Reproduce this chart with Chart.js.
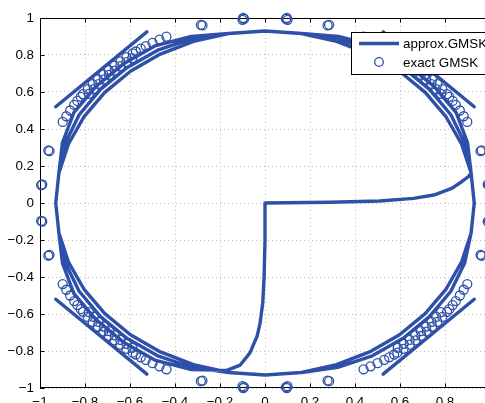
<!DOCTYPE html>
<html><head><meta charset="utf-8">
<script src="https://cdn.jsdelivr.net/npm/chart.js@4.4.1/dist/chart.umd.min.js"></script>
<style>
html,body{margin:0;padding:0;overflow:hidden;background:#fff;width:485px;height:403px}
#wrap{position:absolute;left:0;top:0;width:500px;height:403px}
</style>
</head><body><div id="wrap"><canvas id="c" width="500" height="403"></canvas></div>
<script>
// ---- data ----
const seriesLabels = ['approx.GMSK', 'exact GMSK'];
const xTicks = [-1, -0.8, -0.6, -0.4, -0.2, 0, 0.2, 0.4, 0.6, 0.8, 1];
const yTicks = [-1, -0.8, -0.6, -0.4, -0.2, 0, 0.2, 0.4, 0.6, 0.8, 1];

// approx. GMSK trajectory pieces
const approxStart = [[0,0],[0.29,0.004],[0.51,0.011],[0.66,0.025],[0.75,0.043],[0.83,0.079],[0.874,0.115],[0.904,0.142]];
const approxLoopA = [[0.916,0.162],[0.874,0.318],[0.805,0.465],[0.712,0.598],[0.598,0.712],[0.465,0.805],[0.318,0.874],[0.162,0.916],[0,0.93],
  [-0.162,0.916],[-0.318,0.874],[-0.465,0.805],[-0.598,0.712],[-0.712,0.598],[-0.805,0.465],[-0.874,0.318],[-0.916,0.162],[-0.93,0],
  [-0.916,-0.162],[-0.874,-0.318],[-0.805,-0.465],[-0.712,-0.598],[-0.598,-0.712],[-0.465,-0.805],[-0.318,-0.874],[-0.162,-0.916],[0,-0.93],
  [0.162,-0.916],[0.318,-0.874],[0.465,-0.805],[0.598,-0.712],[0.712,-0.598],[0.805,-0.465],[0.874,-0.318],[0.916,-0.162],[0.93,0]];
const approxLoopB = [[0.916,0.162],[0.888,0.323],[0.826,0.477],[0.731,0.614],[0.614,0.731],[0.477,0.826],[0.323,0.888],[0.162,0.916],[0,0.93],
  [-0.162,0.916],[-0.323,0.888],[-0.477,0.826],[-0.614,0.731],[-0.731,0.614],[-0.826,0.477],[-0.888,0.323],[-0.916,0.162],[-0.93,0],
  [-0.916,-0.162],[-0.888,-0.323],[-0.826,-0.477],[-0.731,-0.614],[-0.614,-0.731],[-0.477,-0.826],[-0.323,-0.888],[-0.162,-0.916],[0,-0.93],
  [0.162,-0.916],[0.323,-0.888],[0.477,-0.826],[0.614,-0.731],[0.731,-0.614],[0.826,-0.477],[0.888,-0.323],[0.916,-0.162],[0.93,0]];
const approxLoopC = [[0.916,0.162],[0.9,0.327],[0.849,0.49],[0.751,0.63],[0.63,0.751],[0.49,0.849],[0.327,0.9],[0.162,0.916],[0,0.93],
  [-0.162,0.916],[-0.327,0.9],[-0.49,0.849],[-0.63,0.751],[-0.751,0.63],[-0.849,0.49],[-0.9,0.327],[-0.916,0.162],[-0.93,0],
  [-0.916,-0.162],[-0.9,-0.327],[-0.849,-0.49],[-0.751,-0.63],[-0.63,-0.751],[-0.49,-0.849],[-0.327,-0.9]];
const approxEnd = [[-0.17,-0.905],[-0.11,-0.876],[-0.067,-0.81],[-0.035,-0.72],[-0.022,-0.65],[-0.01,-0.54],[-0.004,-0.4],[0,-0.2],[0,0]];
const chordUL = [[-0.93,0.52],[-0.525,0.925]];
const chordUR = [[0.525,0.925],[0.93,0.52]];
const chordLL = [[-0.93,-0.52],[-0.525,-0.925]];
const chordLR = [[0.525,-0.925],[0.93,-0.52]];

// exact GMSK samples, by quadrant
const exactQ1 = [[0.899,0.438],[0.883,0.469],[0.866,0.500],[0.848,0.530],[0.834,0.552],[0.819,0.574],[0.809,0.588],[0.783,0.590],[0.788,0.616],[0.761,0.616],[0.766,0.643],[0.740,0.643],[0.743,0.669],[0.716,0.668],[0.719,0.695],[0.693,0.693],[0.695,0.719],[0.668,0.716],[0.669,0.743],[0.643,0.740],[0.643,0.766],[0.616,0.761],[0.616,0.788],[0.590,0.783],[0.588,0.809],[0.574,0.819],[0.552,0.834],[0.530,0.848],[0.500,0.866],[0.469,0.883],[0.438,0.899],
  [0.995,0.097],[0.99,0.1],[0.963,0.285],[0.958,0.28],[0.285,0.963],[0.278,0.96],[0.093,0.995],[0.1,0.99],[0.097,1.0]];
const exactQ2 = [[-0.899,0.438],[-0.883,0.469],[-0.866,0.500],[-0.848,0.530],[-0.834,0.552],[-0.819,0.574],[-0.809,0.588],[-0.783,0.590],[-0.788,0.616],[-0.761,0.616],[-0.766,0.643],[-0.740,0.643],[-0.743,0.669],[-0.716,0.668],[-0.719,0.695],[-0.693,0.693],[-0.695,0.719],[-0.668,0.716],[-0.669,0.743],[-0.643,0.740],[-0.643,0.766],[-0.616,0.761],[-0.616,0.788],[-0.590,0.783],[-0.588,0.809],[-0.574,0.819],[-0.552,0.834],[-0.530,0.848],[-0.500,0.866],[-0.469,0.883],[-0.438,0.899],
  [-0.995,0.097],[-0.99,0.1],[-0.963,0.285],[-0.958,0.28],[-0.285,0.963],[-0.278,0.96],[-0.093,0.995],[-0.1,0.99],[-0.097,1.0]];
const exactQ3 = [[-0.899,-0.438],[-0.883,-0.469],[-0.866,-0.500],[-0.848,-0.530],[-0.834,-0.552],[-0.819,-0.574],[-0.809,-0.588],[-0.783,-0.590],[-0.788,-0.616],[-0.761,-0.616],[-0.766,-0.643],[-0.740,-0.643],[-0.743,-0.669],[-0.716,-0.668],[-0.719,-0.695],[-0.693,-0.693],[-0.695,-0.719],[-0.668,-0.716],[-0.669,-0.743],[-0.643,-0.740],[-0.643,-0.766],[-0.616,-0.761],[-0.616,-0.788],[-0.590,-0.783],[-0.588,-0.809],[-0.574,-0.819],[-0.552,-0.834],[-0.530,-0.848],[-0.500,-0.866],[-0.469,-0.883],[-0.438,-0.899],
  [-0.995,-0.097],[-0.99,-0.1],[-0.963,-0.285],[-0.958,-0.28],[-0.285,-0.963],[-0.278,-0.96],[-0.093,-0.995],[-0.1,-0.99],[-0.097,-1.0]];
const exactQ4 = [[0.899,-0.438],[0.883,-0.469],[0.866,-0.500],[0.848,-0.530],[0.834,-0.552],[0.819,-0.574],[0.809,-0.588],[0.783,-0.590],[0.788,-0.616],[0.761,-0.616],[0.766,-0.643],[0.740,-0.643],[0.743,-0.669],[0.716,-0.668],[0.719,-0.695],[0.693,-0.693],[0.695,-0.719],[0.668,-0.716],[0.669,-0.743],[0.643,-0.740],[0.643,-0.766],[0.616,-0.761],[0.616,-0.788],[0.590,-0.783],[0.588,-0.809],[0.574,-0.819],[0.552,-0.834],[0.530,-0.848],[0.500,-0.866],[0.469,-0.883],[0.438,-0.899],
  [0.995,-0.097],[0.99,-0.1],[0.963,-0.285],[0.958,-0.28],[0.285,-0.963],[0.278,-0.96],[0.093,-0.995],[0.1,-0.99],[0.097,-1.0]];

// ---- build datasets ----
const BLUE = '#2f50a8';
const toPts = a => a.map(p => ({x: p[0], y: p[1]}));
const GAP = {x: null, y: null};
const approxData = [].concat(
  toPts(approxStart), toPts(approxLoopA), toPts(approxLoopB), toPts(approxLoopC), toPts(approxEnd), [GAP],
  toPts(chordUL), [GAP], toPts(chordUR), [GAP], toPts(chordLL), [GAP], toPts(chordLR));
const exactData = [].concat(toPts(exactQ1), toPts(exactQ2), toPts(exactQ3), toPts(exactQ4));

const FONT = '"Liberation Sans", Arial, Helvetica, sans-serif';
const fmt = v => { const s = String(Number(v.toFixed(1))); return s.replace('-', '\u2212'); };

const frame = {
  id: 'frame',
  beforeDatasetsDraw(chart) {
    const {ctx, chartArea: a, scales} = chart;
    ctx.save();
    ctx.strokeStyle = '#000'; ctx.lineWidth = 1;
    ctx.strokeRect(a.left + 0.5, a.top + 0.5, a.right - a.left - 1, a.bottom - a.top - 1);
    ctx.beginPath();
    const L = 4.5;
    xTicks.forEach(v => {
      const px = Math.round(scales.x.getPixelForValue(v)) + 0.5;
      ctx.moveTo(px, a.bottom); ctx.lineTo(px, a.bottom - L);
      ctx.moveTo(px, a.top); ctx.lineTo(px, a.top + L);
    });
    yTicks.forEach(v => {
      const py = Math.round(scales.y.getPixelForValue(v)) + 0.5;
      ctx.moveTo(a.left, py); ctx.lineTo(a.left + L, py);
      ctx.moveTo(a.right, py); ctx.lineTo(a.right - L, py);
    });
    ctx.stroke();
    ctx.restore();
  },
  afterDraw(chart) {
    const {ctx} = chart;
    const ds = chart.data.datasets;
    ctx.save();
    const bx = 351, by = 32, bw = 150, bh = 42;
    ctx.fillStyle = '#fff';
    ctx.fillRect(bx, by, bw, bh);
    ctx.strokeStyle = '#000'; ctx.lineWidth = 1;
    ctx.strokeRect(bx + 0.5, by + 0.5, bw, bh);
    ctx.strokeStyle = BLUE; ctx.lineWidth = 3.3; ctx.lineCap = 'butt';
    ctx.beginPath(); ctx.moveTo(359, 43.5); ctx.lineTo(399, 43.5); ctx.stroke();
    ctx.lineWidth = 1.3;
    ctx.beginPath(); ctx.arc(379, 62, 4.3, 0, Math.PI * 2); ctx.stroke();
    ctx.fillStyle = '#000';
    ctx.font = '13.4px ' + FONT;
    ctx.textBaseline = 'middle'; ctx.textAlign = 'left';
    ctx.fillText(ds[0].label, 403, 44);
    ctx.fillText(ds[1].label, 403, 63);
    ctx.restore();
  }
};

new Chart(document.getElementById('c'), {
  type: 'scatter',
  data: {
    datasets: [
      { label: seriesLabels[0], data: approxData, showLine: true, spanGaps: false,
        borderColor: BLUE, backgroundColor: BLUE, borderWidth: 3.4, pointRadius: 0, pointHoverRadius: 0,
        borderJoinStyle: 'round', borderCapStyle: 'round', tension: 0, order: 2 },
      { label: seriesLabels[1], data: exactData, showLine: false,
        borderColor: BLUE, backgroundColor: 'rgba(0,0,0,0)', borderWidth: 1.3, pointRadius: 4.5,
        pointStyle: 'circle', clip: false, order: 1 }
    ]
  },
  options: {
    responsive: false, animation: false, devicePixelRatio: 1,
    layout: { padding: { top: 18, right: 10, left: 0, bottom: 0 } },
    plugins: { legend: { display: false }, tooltip: { enabled: false } },
    scales: {
      x: {
        type: 'linear', min: -1, max: 1,
        afterBuildTicks: s => { s.ticks = xTicks.map(v => ({value: v})); },
        afterFit: s => { s.height = 15; },
        grid: { color: '#bdbdbd', lineWidth: 1, drawTicks: false },
        border: { display: false, dash: [1, 3] },
        ticks: { padding: 6, color: '#000', font: { family: FONT, size: 13.4 }, maxRotation: 0, autoSkip: false, callback: v => fmt(v) }
      },
      y: {
        type: 'linear', min: -1, max: 1,
        afterBuildTicks: s => { s.ticks = yTicks.map(v => ({value: v})); },
        afterFit: s => { s.width = 40; },
        grid: { color: '#bdbdbd', lineWidth: 1, drawTicks: false },
        border: { display: false, dash: [1, 3] },
        ticks: { padding: 6, color: '#000', font: { family: FONT, size: 13.4 }, autoSkip: false, callback: v => fmt(v) }
      }
    }
  },
  plugins: [frame]
});
</script>
</body></html>
